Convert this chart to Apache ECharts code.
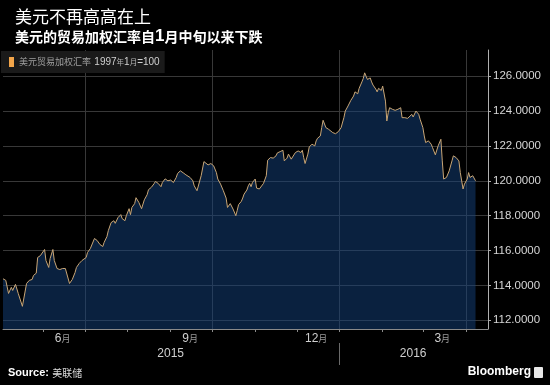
<!DOCTYPE html>
<html>
<head>
<meta charset="utf-8">
<script src="https://cdn.jsdelivr.net/npm/echarts@6/dist/echarts.min.js"></script>
<style>
html,body{margin:0;padding:0;background:#000;}
#chart{width:550px;height:385px;}
</style>
</head>
<body>
<div id="chart"></div>
<script>
// ---- data ----
const seriesName = '美元贸易加权汇率';
const dates = [
'2015-05-03','2015-05-05','2015-05-07','2015-05-09','2015-05-10','2015-05-12','2015-05-14','2015-05-17','2015-05-20','2015-05-22',
'2015-05-24','2015-05-25','2015-05-27','2015-05-28','2015-05-30','2015-05-31','2015-06-02','2015-06-03','2015-06-05','2015-06-06',
'2015-06-08','2015-06-09','2015-06-11','2015-06-13','2015-06-15','2015-06-17','2015-06-18','2015-06-20','2015-06-22','2015-06-24',
'2015-06-25','2015-06-27','2015-06-29','2015-07-02','2015-07-03','2015-07-05','2015-07-06','2015-07-08','2015-07-10','2015-07-12',
'2015-07-14','2015-07-15','2015-07-17','2015-07-18','2015-07-20','2015-07-22','2015-07-23','2015-07-25','2015-07-27','2015-07-28',
'2015-07-30','2015-07-31','2015-08-02','2015-08-03','2015-08-04','2015-08-06','2015-08-07','2015-08-09','2015-08-11','2015-08-13',
'2015-08-15','2015-08-16','2015-08-18','2015-08-20','2015-08-21','2015-08-23','2015-08-25','2015-08-26','2015-08-28','2015-08-30',
'2015-09-01','2015-09-03','2015-09-05','2015-09-06','2015-09-08','2015-09-10','2015-09-12','2015-09-13','2015-09-15','2015-09-17',
'2015-09-18','2015-09-20','2015-09-21','2015-09-23','2015-09-25','2015-09-26','2015-09-28','2015-09-30','2015-10-02','2015-10-04',
'2015-10-05','2015-10-07','2015-10-09','2015-10-11','2015-10-12','2015-10-14','2015-10-15','2015-10-16','2015-10-18','2015-10-19',
'2015-10-20','2015-10-22','2015-10-23','2015-10-24','2015-10-26','2015-10-27','2015-10-28','2015-10-29','2015-10-30','2015-11-01',
'2015-11-02','2015-11-04','2015-11-05','2015-11-07','2015-11-09','2015-11-10','2015-11-12','2015-11-14','2015-11-16','2015-11-17',
'2015-11-19','2015-11-21','2015-11-22','2015-11-24','2015-11-25','2015-11-27','2015-11-28','2015-11-30','2015-12-02','2015-12-04',
'2015-12-05','2015-12-06','2015-12-07','2015-12-09','2015-12-10','2015-12-12','2015-12-14','2015-12-15','2015-12-16','2015-12-18',
'2015-12-19','2015-12-20','2015-12-22','2015-12-24','2015-12-25','2015-12-27','2015-12-29','2015-12-31','2016-01-02','2016-01-03',
'2016-01-04','2016-01-05','2016-01-07','2016-01-09','2016-01-11','2016-01-12','2016-01-14','2016-01-15','2016-01-17','2016-01-18',
'2016-01-19','2016-01-20','2016-01-21','2016-01-23','2016-01-24','2016-01-25','2016-01-27','2016-01-28','2016-01-29','2016-01-31',
'2016-02-01','2016-02-03','2016-02-04','2016-02-05','2016-02-06','2016-02-08','2016-02-10','2016-02-12','2016-02-14','2016-02-15',
'2016-02-17','2016-02-19','2016-02-20','2016-02-22','2016-02-23','2016-02-25','2016-02-27','2016-02-28','2016-03-01','2016-03-02',
'2016-03-03','2016-03-05','2016-03-07','2016-03-08','2016-03-10','2016-03-12','2016-03-14','2016-03-15','2016-03-16','2016-03-18',
'2016-03-20','2016-03-22','2016-03-23','2016-03-25','2016-03-27','2016-03-28','2016-03-30','2016-03-31','2016-04-02','2016-04-03',
'2016-04-04','2016-04-06','2016-04-08'
];
const values = [
114.38,114.29,113.54,113.89,113.71,114.06,113.54,112.80,114.11,114.29,
114.34,114.57,114.70,115.60,115.71,115.66,116.06,115.43,115.03,115.54,
116.06,115.43,114.97,114.91,114.97,114.97,115.03,114.11,114.34,114.74,
115.03,115.26,115.43,115.60,115.89,116.11,116.17,116.69,116.57,116.34,
116.23,116.47,116.80,117.14,117.60,117.71,117.56,117.89,118.06,117.83,
117.71,118.00,118.40,118.06,118.47,118.69,119.03,118.76,118.40,118.91,
119.20,119.49,119.62,119.83,119.96,119.85,119.66,119.90,120.11,120.00,
120.04,119.90,120.19,120.42,120.57,120.46,120.34,120.23,120.19,120.00,
119.71,119.43,119.33,120.29,121.10,120.99,120.91,120.99,120.86,120.47,
120.10,119.81,119.43,119.01,118.47,118.69,118.76,118.38,118.00,118.29,
118.63,118.82,119.01,119.24,119.47,119.71,119.85,119.66,119.90,120.10,
119.58,119.53,119.53,119.85,120.29,121.18,121.33,121.30,121.43,121.60,
121.67,121.75,121.14,121.30,121.53,121.24,121.33,121.62,121.71,121.62,
121.75,121.33,120.99,121.53,121.94,122.10,122.00,122.29,122.44,122.57,
123.05,123.47,123.05,122.95,122.86,122.76,122.70,122.82,123.05,122.95,
123.62,124.00,124.29,124.61,124.86,125.10,124.99,125.30,125.67,125.87,
126.19,126.00,125.81,125.90,125.67,125.49,125.26,125.10,125.30,125.18,
125.43,124.57,123.43,123.90,124.19,124.10,124.04,124.10,124.19,123.62,
123.62,123.58,123.62,123.81,123.66,124.00,123.81,123.53,123.05,122.57,
122.19,122.29,122.10,121.90,121.49,122.00,122.38,121.14,120.10,120.19,
120.57,121.14,121.43,121.33,121.14,120.47,119.53,119.81,120.10,120.47,
120.19,120.29,120.00
];
const yTicks = [112, 114, 116, 118, 120, 122, 124, 126];
const monthTicks = ['2015-06-01','2015-07-01','2015-08-01','2015-09-01','2015-10-01','2015-11-01','2015-12-01',
  '2016-01-01','2016-02-01','2016-03-01','2016-04-01'];
const monthLabels = ['2015-06-15','2015-09-15','2015-12-15','2016-03-15'];
const quarterLines = ['2015-07-01','2015-10-01','2016-01-01','2016-04-01'];
const yearDivider = ['2016-01-01'];
const yearLabels = ['2015-09-01','2016-02-23'];
const xMin = '2015-05-03', xMax = '2016-04-17';

// dates -> day timestamps for a numeric axis
function ts(s) { return new Date(s + 'T00:00:00').getTime(); }

const chart = echarts.init(document.getElementById('chart'), null, {renderer: 'canvas'});
const CJK = "'Noto Sans CJK SC', sans-serif";
const LAT = "'Liberation Sans', Arial, sans-serif";

const option = {
  backgroundColor: '#000',
  animation: false,
  title: {
    text: '美元不再高高在上',
    subtext: '美元的贸易加权汇率自{one|1}月中旬以来下跌',
    left: 10, top: 3, itemGap: 3,
    textStyle: {color: '#fff', fontSize: 17, fontWeight: 'normal', fontFamily: CJK},
    subtextStyle: {color: '#fff', fontSize: 14, fontWeight: 'bold', fontFamily: CJK,
      rich: {one: {color: '#fff', fontSize: 17, fontWeight: 'bold', fontFamily: LAT}}}
  },
  legend: {
    left: 1, top: 51, padding: [5, 5, 5, 8],
    backgroundColor: '#1a1a1a',
    icon: 'rect', itemWidth: 5, itemHeight: 10, itemGap: 4,
    data: [{name: seriesName, itemStyle: {color: '#f2a54a'}}],
    formatter: function (n) {
      return '{a|' + n + '} {b|1997}{c|年}{b|1}{c|月}{b|=100}';
    },
    textStyle: {
      color: '#aaa',
      rich: {
        a: {color: '#a0a0a0', fontSize: 9, fontFamily: CJK},
        b: {color: '#d0d0d0', fontSize: 10, fontFamily: LAT},
        c: {color: '#b5b5b5', fontSize: 7.5, fontFamily: CJK}
      }
    }
  },
  grid: [
    {left: 3, right: 62, top: 50, bottom: 56},
    {left: 3, right: 62, top: 330, height: 13}
  ],
  xAxis: [
    {
      gridIndex: 0, type: 'value', min: ts(xMin), max: ts(xMax), position: 'bottom',
      axisLine: {show: true, lineStyle: {color: '#8a8a8a', width: 1}},
      axisTick: {show: true, customValues: monthTicks.map(ts), length: 3, lineStyle: {color: '#8a8a8a'}},
      axisLabel: {
        show: true, customValues: monthLabels.map(ts), margin: 4, hideOverlap: false,
        formatter: function (v) { return '{n|' + (new Date(v).getMonth() + 1) + '}{m|月}'; },
        rich: {
          n: {color: '#cfcfcf', fontSize: 12, fontFamily: LAT},
          m: {color: '#9a9a9a', fontSize: 9, fontFamily: CJK}
        }
      },
      splitLine: {show: false}
    },
    {
      gridIndex: 0, type: 'value', min: ts(xMin), max: ts(xMax), position: 'top',
      axisLine: {show: false},
      axisTick: {show: false, customValues: quarterLines.map(ts)},
      axisLabel: {show: false, customValues: quarterLines.map(ts)},
      splitLine: {show: true, lineStyle: {color: '#383838', width: 1}}
    },
    {
      gridIndex: 1, type: 'value', min: ts(xMin), max: ts(xMax), position: 'bottom',
      axisLine: {show: false},
      axisTick: {show: true, customValues: yearDivider.map(ts), length: 22, lineStyle: {color: '#6a6a6a'}},
      axisLabel: {
        show: true, customValues: yearLabels.map(ts), margin: 5, hideOverlap: false,
        formatter: function (v) { return String(new Date(v).getFullYear()); },
        color: '#cfcfcf', fontSize: 12, fontFamily: LAT
      },
      splitLine: {show: false}
    }
  ],
  yAxis: [
    {
      gridIndex: 0, type: 'value', position: 'right', min: 111.5, max: 127.5,
      axisLine: {show: true, lineStyle: {color: '#b0b0b0', width: 1}},
      axisTick: {show: true, customValues: yTicks, length: 3, lineStyle: {color: '#b0b0b0'}},
      axisLabel: {
        show: true, customValues: yTicks, margin: 5,
        formatter: function (v) { return v.toFixed(4); },
        color: '#d6d6d6', fontSize: 11.5, fontFamily: LAT
      },
      splitLine: {show: true, lineStyle: {color: '#383838', width: 1}}
    },
    {gridIndex: 1, type: 'value', show: false}
  ],
  series: [{
    name: seriesName,
    type: 'line',
    xAxisIndex: 0, yAxisIndex: 0,
    data: dates.map(function (d, i) { return [ts(d), values[i]]; }),
    showSymbol: false,
    symbol: 'none',
    itemStyle: {color: '#f2a54a'},
    lineStyle: {color: '#c9a676', width: 1},
    areaStyle: {color: 'rgba(20,68,128,0.7)', origin: 'start'}
  }],
  graphic: [
    {
      type: 'text', left: 8, top: 367,
      style: {
        text: '{b|Source:} {c|美联储}',
        rich: {
          b: {fill: '#fff', fontSize: 11, fontWeight: 'bold', fontFamily: LAT},
          c: {fill: '#ddd', fontSize: 10, fontFamily: CJK}
        }
      }
    },
    {
      type: 'text', right: 19, top: 366,
      style: {text: 'Bloomberg', fill: '#fff', fontSize: 12, fontWeight: 'bold', fontFamily: LAT}
    },
    {
      type: 'rect', right: 7, top: 367,
      shape: {width: 9, height: 11, r: 1},
      style: {fill: '#e8e8e8'}
    }
  ]
};
chart.setOption(option);
</script>
</body>
</html>
